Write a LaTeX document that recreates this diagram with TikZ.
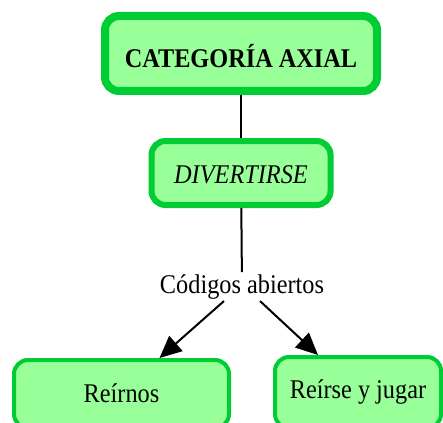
\documentclass[tikz,border=0pt]{standalone}
\usepackage{fontspec}
\setmainfont{Liberation Serif}
\usepackage{tikz}
\usetikzlibrary{positioning,arrows.meta,calc}
\definecolor{boxgreen}{RGB}{153,255,153}
\definecolor{boxedge}{RGB}{0,204,51}
\newcommand{\narrow}[1]{\scalebox{0.9}[1]{#1}}
\tikzset{
  box/.style  = {draw=boxedge, fill=boxgreen, rounded corners=14pt, align=center, inner sep=0pt, font=\fontsize{27}{31}\selectfont},
  link/.style = {line width=2pt, draw=black},
  flow/.style = {-{Triangle[length=22pt,width=20pt]}, line width=2pt, draw=black},
}
\begin{document}
\begin{tikzpicture}[x=1pt, y=-1pt]
  \useasboundingbox (0,0) rectangle (443,422);
  \node[box, line width=8pt, minimum width=272pt, minimum height=75pt, text height=31pt, text depth=2pt] (axial) at (241,53.5) {\narrow{\textbf{CATEGORÍA AXIAL}}};
  \node[box, line width=6pt, minimum width=179pt, minimum height=64pt, text height=22pt, text depth=2pt] (div) at (241,173) {\narrow{\textit{DIVERTIRSE}}};
  \node[font=\fontsize{27}{31}\selectfont, anchor=base, inner sep=2pt] (codes) at (242,293) {\narrow{Códigos abiertos}};
  \node[box, line width=4pt, minimum width=215pt, minimum height=68pt, text height=18pt, text depth=2pt] (reir) at (121.5,394) {\narrow{Reírnos}};
  \node[box, line width=4pt, minimum width=166pt, minimum height=71pt, text height=16pt, text depth=5pt] (jugar) at (358,392.5) {\narrow{Reírse y jugar}};
  \draw[link] (axial) -- (div);
  \draw[link] (div) -- (codes);
  \draw[flow] ([xshift=-18pt]codes.south) -- ([xshift=38pt]reir.north);
  \draw[flow] ([xshift=18pt]codes.south) -- ([xshift=-40pt]jugar.north);
\end{tikzpicture}
\end{document}
